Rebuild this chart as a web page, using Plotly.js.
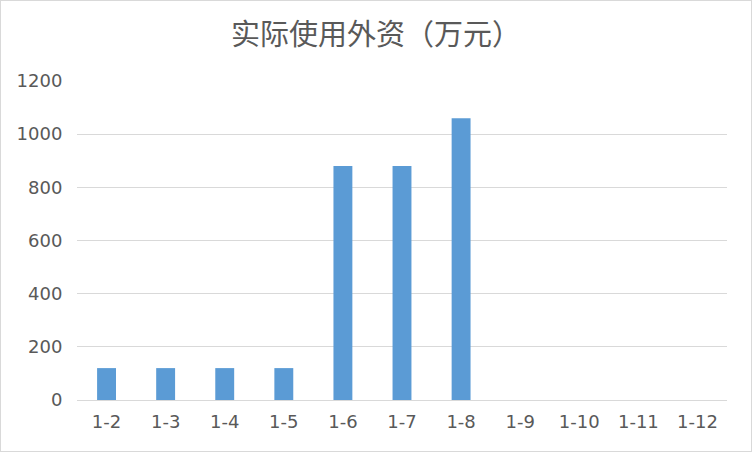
<!DOCTYPE html>
<html>
<head>
<meta charset="utf-8">
<script src="https://cdn.plot.ly/plotly-3.0.1.min.js"></script>
<style>
  html, body { margin: 0; padding: 0; background: #fff; }
  #chart { width: 750px; height: 450px; border: 1px solid #d9d9d9; }
</style>
</head>
<body>
<div id="chart"></div>
<script>
// 实际使用外资 (万元)
const months = ["1-2", "1-3", "1-4", "1-5", "1-6", "1-7", "1-8", "1-9", "1-10", "1-11", "1-12"];
const values = [120, 120, 120, 120, 880, 880, 1060, null, null, null, null];
const yTicks = [0, 200, 400, 600, 800, 1000, 1200];

const grey = "#595959";
const tickFont = { family: "DejaVu Sans", size: 18, color: grey };

Plotly.newPlot("chart", [{
    x: months, y: values, type: "bar",
    marker: { color: "#5b9bd5" },
    hoverinfo: "x+y"
}], {
    width: 750, height: 450,
    paper_bgcolor: "#fff", plot_bgcolor: "#fff",
    margin: { l: 76, r: 24, t: 80, b: 51 },
    bargap: 0.68,
    showlegend: false,
    font: tickFont,
    title: {
        text: "实际使用外资（万元）",
        font: { family: "Noto Sans CJK KR", size: 29, color: grey },
        x: 0.5, xanchor: "center", y: 0.925, yanchor: "middle"
    },
    xaxis: {
        type: "category", showgrid: false, zeroline: false,
        showline: true, linecolor: "#d9d9d9", linewidth: 1,
        ticks: "outside", ticklen: 5, tickcolor: "rgba(0,0,0,0)",
        tickfont: tickFont
    },
    yaxis: {
        range: [0, 1200], tickvals: yTicks,
        showgrid: true, gridcolor: "#d9d9d9", gridwidth: 1,
        zeroline: false, showline: false,
        ticks: "outside", ticklen: 10, tickcolor: "rgba(0,0,0,0)",
        tickfont: tickFont
    }
}, { displayModeBar: false, staticPlot: true });
</script>
</body>
</html>
